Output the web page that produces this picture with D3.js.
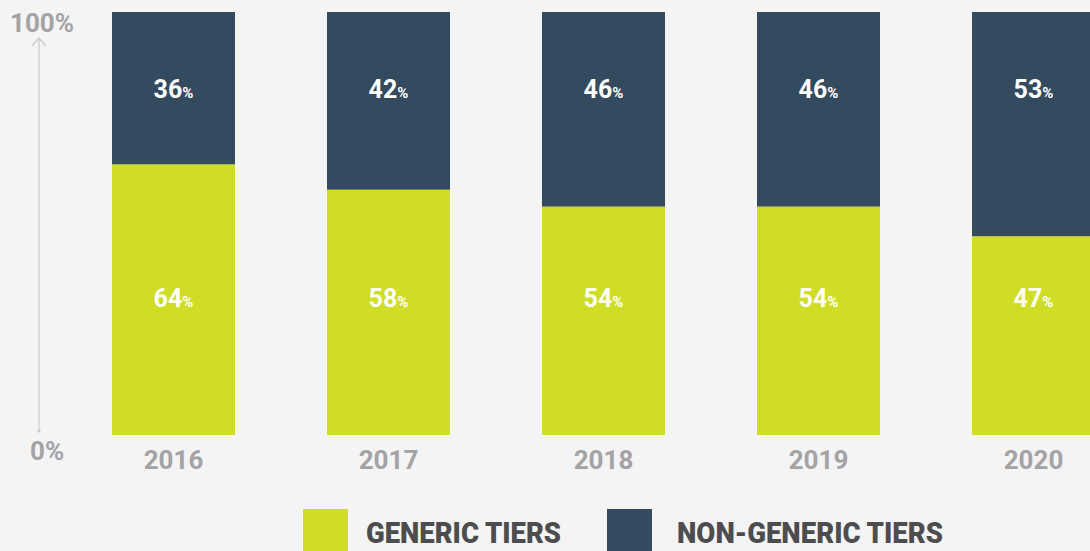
<!DOCTYPE html>
<html>
<head>
<meta charset="utf-8">
<script src="https://cdn.jsdelivr.net/npm/d3@7"></script>
<style>
  html, body { margin: 0; padding: 0; background: #f4f4f4; }
  svg { display: block; font-family: Roboto, "Open Sans", sans-serif; font-weight: 700; }
</style>
</head>
<body>
<div id="chart"></div>
<script>
const years = ['2016', '2017', '2018', '2019', '2020'];
const generic = [64, 58, 54, 54, 47];
const nonGeneric = [36, 42, 46, 46, 53];
const seriesNames = ['GENERIC TIERS', 'NON-GENERIC TIERS'];
const seriesColors = ['#cfdd24', '#344a5e'];
const yTicks = ['0%', '100%'];
// labels sit on fixed rows, not at segment middles
const labelRows = [32.4, 81.8];

const width = 1090, height = 551;
const svg = d3.select('#chart').append('svg')
  .attr('width', width).attr('height', height);

const x = d3.scaleBand().domain(years).range([112, 1095])
  .paddingInner(92 / 215).paddingOuter(0);
const y = d3.scaleLinear().domain([0, 100]).range([435, 12]);

const rows = years.map((yr, i) => ({ year: yr, generic: generic[i], nonGeneric: nonGeneric[i] }));
const stacked = d3.stack().keys(['generic', 'nonGeneric'])(rows);

// bars
const layers = svg.append('g').selectAll('g').data(stacked).join('g')
  .attr('fill', (d, i) => seriesColors[i]);
layers.selectAll('rect').data(d => d).join('rect')
  .attr('x', d => x(d.data.year))
  .attr('y', d => y(d[1]))
  .attr('width', x.bandwidth())
  .attr('height', d => y(d[0]) - y(d[1]));

// value labels
layers.each(function(s, si) {
  d3.select(this).selectAll('text').data(s).join('text')
    .attr('x', d => x(d.data.year) + x.bandwidth() / 2)
    .attr('y', y(labelRows[si]) + 9)
    .attr('text-anchor', 'middle')
    .attr('fill', '#ffffff')
    .style('font-size', '25px')
    .each(function(d) {
      const t = d3.select(this);
      t.append('tspan').text(Math.round(d[1] - d[0]));
      t.append('tspan').style('font-size', '15px').text('%');
    });
});

// y axis arrow
const axisX = 39;
const axisG = svg.append('g').attr('stroke', '#c9c9c9').attr('fill', 'none').attr('stroke-width', 1.2);
axisG.append('line').attr('x1', axisX).attr('x2', axisX).attr('y1', 38).attr('y2', 431);
axisG.append('path').attr('d', `M${axisX - 7},${46} L${axisX},${38} L${axisX + 7},${46}`);
svg.append('circle').attr('cx', axisX).attr('cy', 431).attr('r', 1.6).attr('fill', '#c9c9c9');

svg.append('text').attr('x', 10).attr('y', 32).attr('fill', '#a3a3a6')
  .style('font-size', '26px').text(yTicks[1]);
svg.append('text').attr('x', 30).attr('y', 460).attr('fill', '#a3a3a6')
  .style('font-size', '26px').text(yTicks[0]);

// year labels
svg.append('g').selectAll('text').data(years).join('text')
  .attr('x', d => x(d) + x.bandwidth() / 2)
  .attr('y', 469)
  .attr('text-anchor', 'middle')
  .attr('fill', '#a3a3a6')
  .style('font-size', '26px')
  .text(d => d);

// legend
const legendItems = [
  { name: seriesNames[0], color: seriesColors[0], sx: 303, tx: 366, tw: 195 },
  { name: seriesNames[1], color: seriesColors[1], sx: 607, tx: 677, tw: 266 }
];
const lg = svg.append('g');
lg.selectAll('rect').data(legendItems).join('rect')
  .attr('x', d => d.sx).attr('y', 509).attr('width', 45).attr('height', 50)
  .attr('fill', d => d.color);
lg.selectAll('text').data(legendItems).join('text')
  .attr('x', d => d.tx).attr('y', 543)
  .attr('fill', '#4d4d4f')
  .style('font-size', '30px')
  .style('font-weight', 900)
  .attr('textLength', d => d.tw)
  .attr('lengthAdjust', 'spacingAndGlyphs')
  .text(d => d.name);
</script>
</body>
</html>
